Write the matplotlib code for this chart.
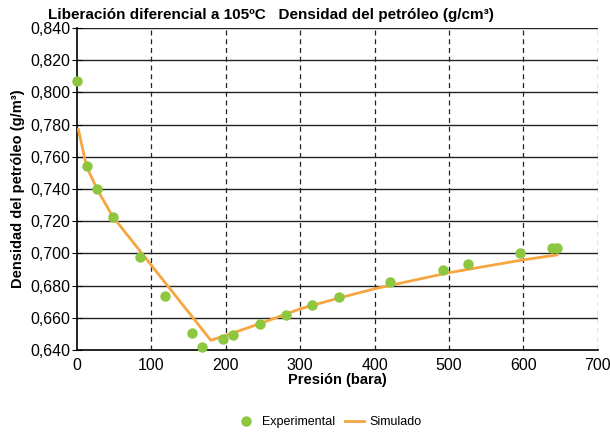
import numpy as np
import matplotlib.pyplot as plt
from matplotlib.ticker import FuncFormatter

plt.rcParams['font.family'] = ['Liberation Sans', 'DejaVu Sans']

# experimental data (bara, g/cm3)
exp_p = [0, 13, 27, 48, 85, 118, 155, 168, 196, 210, 246, 281, 316, 352, 421, 492, 525, 595, 638, 645]
exp_rho = [0.807, 0.754, 0.740, 0.7226, 0.698, 0.6735, 0.6506, 0.6419, 0.6468, 0.6493, 0.6561, 0.6617,
           0.6680, 0.6729, 0.6822, 0.6897, 0.6934, 0.7003, 0.7034, 0.7034]

# simulated curve
sim_p = [2, 13, 27, 48, 180, 200, 250, 300, 350, 400, 450, 500, 550, 600, 645]
sim_rho = [0.777, 0.754, 0.740, 0.723, 0.646, 0.649, 0.657, 0.6655, 0.672, 0.678, 0.683, 0.688,
           0.692, 0.696, 0.699]

fig = plt.figure(figsize=(6.1, 4.32), dpi=100)
ax = fig.add_axes([0.126, 0.19, 0.854, 0.745])

ax.plot(sim_p, sim_rho, color='#F7A541', lw=2, label='Simulado', zorder=3)
ax.plot(exp_p, exp_rho, 'o', color='#8DC63F', ms=6.5, label='Experimental', zorder=4, clip_on=False)

ax.set_xlim(0, 700)
ax.set_ylim(0.64, 0.84)
ax.set_xticks(np.arange(0, 701, 100))
ax.set_yticks(np.arange(0.64, 0.8401, 0.02))
ax.yaxis.set_major_formatter(FuncFormatter(lambda v, _: f'{v:.3f}'.replace('.', ',')))
ax.tick_params(axis='y', labelsize=11.5, length=7, direction='inout', color='black', pad=1)
ax.tick_params(axis='x', labelsize=11.5, length=0, pad=6)

for y in np.arange(0.66, 0.8401, 0.02):
    ax.axhline(y, color='#222222', lw=1, zorder=1)
for x in range(100, 701, 100):
    ax.axvline(x, color='#222222', lw=0.9, ls=(0, (4, 3)), zorder=1)

for s in ['top', 'right']:
    ax.spines[s].set_visible(False)
ax.spines['left'].set_linewidth(1.2)
ax.spines['bottom'].set_linewidth(1.2)

ax.set_xlabel('Presión (bara)', fontsize=10.5, fontweight='bold', labelpad=0)
ax.set_ylabel('Densidad del petróleo (g/m³)', fontsize=10.5, fontweight='bold', labelpad=4)
fig.text(0.079, 0.965, 'Liberación diferencial a 105ºC   Densidad del petróleo (g/cm³)',
         fontsize=11, fontweight='bold', va='center', ha='left')

h, l = ax.get_legend_handles_labels()
fig.legend(h[::-1], l[::-1], loc='center', bbox_to_anchor=(0.54, 0.023), ncol=2, frameon=False,
           fontsize=9, handlelength=1.5, columnspacing=0.8, handletextpad=0.5)

fig.savefig('out.png', dpi=100)
